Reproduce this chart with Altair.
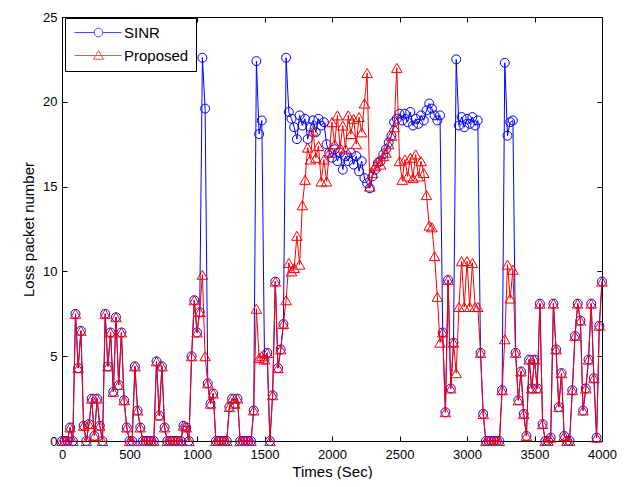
import altair as alt
import pandas as pd

# sampling grid (seconds)
times = list(range(0, 4001, 20))

proposed = [
    0, 0, 0, 0.8, 0, 7.5, 4.3, 6.5, 0.9, 0,            # 0-180
    1.0, 2.5, 0.3, 2.5, 0.9, 0, 7.5, 4.4, 6.4, 2.9,    # 200-380
    7.3, 3.3, 6.4, 2.4, 0.8, 0, 0, 4.4, 1.8, 0.8,      # 400-580
    0, 0, 0, 0, 0, 4.7, 1.5, 4.4, 0.8, 0,              # 600-780
    0, 0, 0, 0, 0, 0.9, 0.8, 0, 5.0, 8.3,              # 800-980
    6.4, 7.6, 9.8, 5.0, 3.4, 2.2, 2.8, 0, 0, 0,        # 1000-1180
    0, 0, 2.0, 2.5, 2.2, 2.5, 0, 0, 0, 0,              # 1200-1380
    0, 1.8, 7.8, 4.9, 5.0, 4.8, 5.2, 0, 2.7, 9.4,      # 1400-1580
    4.3, 5.4, 6.9, 8.3, 10.5, 10.0, 10.2, 12.1, 10.4, 13.9,   # 1600-1780
    15.4, 17.3, 16.6, 18.3, 16.7, 17.4, 15.3, 16.6, 15.3, 17.0,  # 1800-1980
    18.8, 17.5, 19.2, 17.3, 18.6, 17.2, 19.2, 18.1, 19.0, 17.5,  # 2000-2180
    19.1, 18.2, 19.9, 21.7, 15.0, 15.8, 16.2, 16.5, 16.3, 16.8,  # 2200-2380
    17.0, 17.5, 18.0, 18.5, 22.0, 16.5, 15.4, 16.6, 15.6, 16.7,  # 2400-2580
    15.5, 16.9, 15.6, 16.5, 15.8, 14.5, 12.7, 12.6, 10.9, 8.5,   # 2600-2780
    5.8, 6.4, 1.7, 9.5, 3.1, 5.8, 4.0, 7.9, 10.6, 7.9,           # 2800-2980
    10.6, 7.9, 10.5, 7.9, 7.9, 5.2, 1.6, 0, 0, 0,                # 3000-3180
    0, 0, 0, 3.0, 6.0, 10.4, 8.4, 10.1, 5.2, 2.4,                # 3200-3380
    4.1, 1.6, 0.3, 4.8, 3.1, 4.8, 3.1, 8.1, 1.0, 0,              # 3400-3580
    0, 0.2, 8.1, 5.4, 2.0, 4.0, 0.3, 0, 0, 3.0,                  # 3600-3780
    6.2, 8.1, 7.1, 1.8, 3.1, 4.8, 8.1, 3.7, 0.2, 6.8,            # 3800-3980
    9.4,                                                         # 4000
]

sinr = [
    0, 0, 0, 0.8, 0, 7.5, 4.3, 6.5, 0.9, 0,
    1.0, 2.5, 0.3, 2.5, 0.9, 0, 7.5, 4.4, 6.4, 2.9,
    7.3, 3.3, 6.4, 2.4, 0.8, 0, 0, 4.4, 1.8, 0.8,
    0, 0, 0, 0, 0, 4.7, 1.5, 4.4, 0.8, 0,
    0, 0, 0, 0, 0, 0.9, 0.8, 0, 5.0, 8.3,
    6.4, 7.6, 22.6, 19.6, 3.4, 2.2, 2.8, 0, 0, 0,
    0, 0, 2.0, 2.5, 2.2, 2.5, 0, 0, 0, 0,
    0, 1.8, 22.4, 18.1, 18.9, 4.8, 5.2, 0, 2.7, 9.4,
    4.3, 5.4, 6.9, 22.6, 19.4, 19.0, 18.5, 17.8, 19.2, 18.6,
    19.0, 17.8, 18.5, 18.9, 18.2, 19.0, 18.6, 18.8, 17.5, 17.0,
    16.7, 17.2, 16.5, 17.0, 16.0, 16.8, 16.5, 17.0, 16.3, 16.8,
    15.9, 16.5, 15.5, 15.2, 14.9, 15.6, 16.0, 16.4, 16.5, 16.9,
    17.2, 17.6, 18.0, 18.8, 19.0, 19.3, 18.9, 19.3, 18.8, 19.4,
    18.6, 19.0, 18.7, 19.2, 18.9, 19.5, 19.9, 19.6, 19.2, 18.9,
    19.2, 6.4, 1.7, 9.5, 3.1, 5.8, 22.5, 18.6, 19.1, 18.5,
    19.0, 18.7, 19.1, 18.6, 18.9, 5.2, 1.6, 0, 0, 0,
    0, 0, 0, 3.0, 22.3, 18.0, 18.8, 18.9, 5.2, 2.4,
    4.1, 1.6, 0.3, 4.8, 3.1, 4.8, 3.1, 8.1, 1.0, 0,
    0, 0.2, 8.1, 5.4, 2.0, 4.0, 0.3, 0, 0, 3.0,
    6.2, 8.1, 7.1, 1.8, 3.1, 4.8, 8.1, 3.7, 0.2, 6.8,
    9.4,
]

series_names = ["SINR", "Proposed"]
series_colors = ["#0000ff", "#ff0000"]
x_ticks = [0, 500, 1000, 1500, 2000, 2500, 3000, 3500, 4000]
y_ticks = [0, 5, 10, 15, 20, 25]

df = pd.DataFrame({"t": times, "SINR": sinr, "Proposed": proposed})

FONT = "Liberation Sans"
xs = alt.Scale(domain=[0, 4000], nice=False, zero=False)
ys = alt.Scale(domain=[0, 25], nice=False, zero=False)

common_axis = dict(grid=False, domain=False, tickSize=5, tickColor="black",
                   tickWidth=1, offset=-5, labelFont=FONT, labelFontSize=13,
                   labelColor="black", labelFlush=False, format="d",
                   titleFont=FONT, titleFontSize=15,
                   titleColor="black", titleFontWeight="normal")

x_bottom = alt.Axis(orient="bottom", values=x_ticks, labelPadding=7,
                    title="Times (Sec)", titlePadding=3, **common_axis)
y_left = alt.Axis(orient="left", values=y_ticks, labelPadding=5,
                  title="Loss packet number", titlePadding=6, **common_axis)
x_top = alt.Axis(orient="top", values=x_ticks, labels=False, title=None,
                 **common_axis)
y_right = alt.Axis(orient="right", values=y_ticks, labels=False, title=None,
                   **common_axis)

base = alt.Chart(df)

blue_line = base.mark_line(color=series_colors[0], strokeWidth=1).encode(
    x=alt.X("t:Q", scale=xs, axis=x_bottom),
    y=alt.Y("SINR:Q", scale=ys, axis=y_left),
)
blue_pts = base.mark_point(shape="circle", color=series_colors[0], size=80,
                           strokeWidth=1, opacity=1).encode(
    x=alt.X("t:Q", scale=xs, axis=None),
    y=alt.Y("SINR:Q", scale=ys, axis=None),
)
red_line = base.mark_line(color=series_colors[1], strokeWidth=1).encode(
    x=alt.X("t:Q", scale=xs, axis=x_top),
    y=alt.Y("Proposed:Q", scale=ys, axis=y_right),
)
red_pts = base.mark_point(shape="triangle-up", color=series_colors[1], size=110,
                          strokeWidth=1, opacity=1).encode(
    x=alt.X("t:Q", scale=xs, axis=None),
    y=alt.Y("Proposed:Q", scale=ys, axis=None),
)

sinr_symbol = ("M-1,0L2.94,0M4.66,0L8.4,0"
               "M2.94,0A0.86,0.86,0,1,1,4.66,0A0.86,0.86,0,1,1,2.94,0")
prop_symbol = "M-1,0L8.4,0M3.8,-1L4.8,0.75L2.8,0.75Z"

legend_def = alt.Legend(title=None, orient="none", legendX=3, legendY=1,
                        strokeColor="black", fillColor="white", padding=7,
                        symbolSize=100, symbolStrokeWidth=1,
                        symbolFillColor="transparent",
                        labelFont=FONT, labelFontSize=15, labelColor="black",
                        labelOffset=37, rowPadding=7)

legend_layer = base.transform_filter("datum.t < 0").transform_calculate(
    series="'SINR'"
).mark_point(filled=False).encode(
    x=alt.X("t:Q", scale=xs, axis=None),
    y=alt.Y("SINR:Q", scale=ys, axis=None),
    color=alt.Color("series:N",
                    scale=alt.Scale(domain=series_names, range=series_colors),
                    legend=legend_def),
    shape=alt.Shape("series:N",
                    scale=alt.Scale(domain=series_names,
                                    range=[sinr_symbol, prop_symbol]),
                    legend=legend_def),
)

chart = alt.layer(blue_line, blue_pts, red_line, red_pts, legend_layer).resolve_axis(
    x="independent", y="independent"
).properties(
    width=540, height=424,
    padding={"left": 54, "top": 9, "right": 20, "bottom": 38},
    autosize=alt.AutoSizeParams(type="none"),
    background="white",
).configure_view(stroke="black", strokeWidth=1)

chart.save("out.html", embed_options={"renderer": "svg", "actions": False})
